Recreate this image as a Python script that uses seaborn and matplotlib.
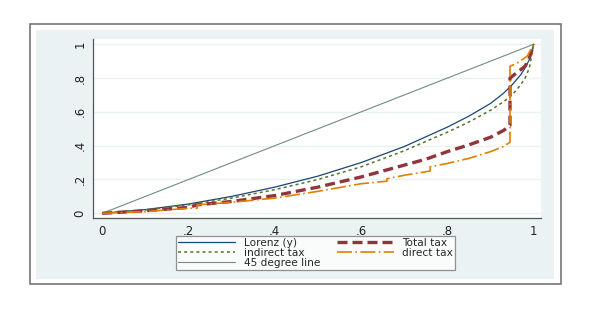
import matplotlib
matplotlib.use("Agg")
import matplotlib.pyplot as plt
import seaborn as sns
import pandas as pd
from matplotlib.patches import Rectangle

# ---- data ----
lorenz_x = [0, .1, .2, .3, .4, .5, .6, .7, .8, .85, .9, .93, .95, .97, .98, .99, 1.0]
lorenz_y = [0, .022, .055, .10, .155, .22, .30, .395, .51, .575, .65, .71, .76, .82, .86, .91, 1.0]

indirect_x = [0, .1, .2, .3, .4, .5, .6, .7, .8, .85, .9, .93, .95, .97, .98, .99, 1.0]
indirect_y = [0, .02, .05, .09, .14, .20, .275, .37, .48, .54, .61, .66, .70, .76, .80, .86, 1.0]

line45_x = [0, 1]
line45_y = [0, 1]

total_x = [0, .1, .2, .22, .3, .4, .5, .6, .65, .7, .75, .8, .85, .9, .93, .945, .945, .96, .98, .99, 1.0]
total_y = [0, .015, .035, .05, .07, .105, .155, .215, .25, .285, .32, .365, .405, .45, .49, .52, .80, .83, .87, .92, 1.0]

direct_x = [0, .1, .2, .22, .22, .3, .4, .5, .6, .66, .66, .7, .76, .76, .8, .85, .9, .93, .945, .945, .96, .985, 1.0]
direct_y = [0, .01, .03, .03, .05, .065, .09, .13, .175, .19, .205, .225, .25, .275, .295, .325, .365, .395, .42, .87, .885, .93, 1.0]

x_ticks = [0, .2, .4, .6, .8, 1]
x_tick_labels = ["0", ".2", ".4", ".6", ".8", "1"]
y_ticks = [0, .2, .4, .6, .8, 1]
y_tick_labels = ["0", ".2", ".4", ".6", ".8", "1"]

sns.set_style("white")
plt.rcParams['font.family'] = ['DejaVu Sans']

fig = plt.figure(figsize=(6.0, 3.21), dpi=100)
W, H = 600, 321

# outer frame and graph region
fig.patches.append(Rectangle((30 / W, 1 - 284.3 / H), (560.7 - 30) / W, (284.3 - 24.3) / H,
                             transform=fig.transFigure, facecolor='white', edgecolor='#777777',
                             linewidth=1.2, zorder=-3))
fig.patches.append(Rectangle((36 / W, 1 - 279.3 / H), (554.5 - 36) / W, (279.3 - 30) / H,
                             transform=fig.transFigure, facecolor='#eaf2f3', edgecolor='none',
                             zorder=-2))

ax = fig.add_axes([93.3 / W, 1 - 218.3 / H, (541 - 93.3) / W, (218.3 - 39) / H])
ax.set_facecolor('white')

series = [
    ("Lorenz (y)", lorenz_x, lorenz_y, '#1a476f', '-', 0.9),
    ("indirect tax", indirect_x, indirect_y, '#55752f', (0, (2, 2)), 1.1),
    ("45 degree line", line45_x, line45_y, '#6e8e84', '-', 0.8),
    ("Total tax", total_x, total_y, '#90353b', (0, (3, 1.5)), 2.4),
    ("direct tax", direct_x, direct_y, '#e37e00', (0, (9, 2, 1, 2)), 1.2),
]
for name, xs, ys, col, ls, lw in series:
    df = pd.DataFrame({"x": xs, "y": ys})
    sns.lineplot(data=df, x="x", y="y", ax=ax, color=col, linestyle=ls, linewidth=lw,
                 estimator=None, sort=False, label=name)

ax.set_xlim(-0.0209, 1.0169)
ax.set_ylim(-0.0296, 1.031)
ax.set_xticks(x_ticks)
ax.set_xticklabels(x_tick_labels)
ax.set_yticks(y_ticks)
ax.set_yticklabels(y_tick_labels, rotation=90, va='center')
ax.set_xlabel("")
ax.set_ylabel("")
ax.grid(axis='y', color='#eaf2f3', linewidth=1.0)
ax.set_axisbelow(True)
for s in ['top', 'right']:
    ax.spines[s].set_visible(False)
for s in ['left', 'bottom']:
    ax.spines[s].set_color('#555555')
    ax.spines[s].set_linewidth(0.9)
ax.tick_params(axis='both', direction='out', length=3.5, width=0.7, color='#555555',
               labelsize=8.5, labelcolor='#222222', pad=1.5)
ax.tick_params(axis='y', pad=1.5)

leg = ax.legend(ncol=2, loc='upper left', bbox_to_anchor=(176 / W, 1 - 235.7 / H),
                bbox_transform=fig.transFigure, frameon=True, fancybox=False,
                fontsize=7.6, handlelength=5.4, handletextpad=0.8, columnspacing=1.6,
                labelspacing=0.0, borderpad=0.2, borderaxespad=0)
leg.get_frame().set_edgecolor('#777777')
leg.get_frame().set_linewidth(0.9)

fig.savefig("out.png", dpi=100)
